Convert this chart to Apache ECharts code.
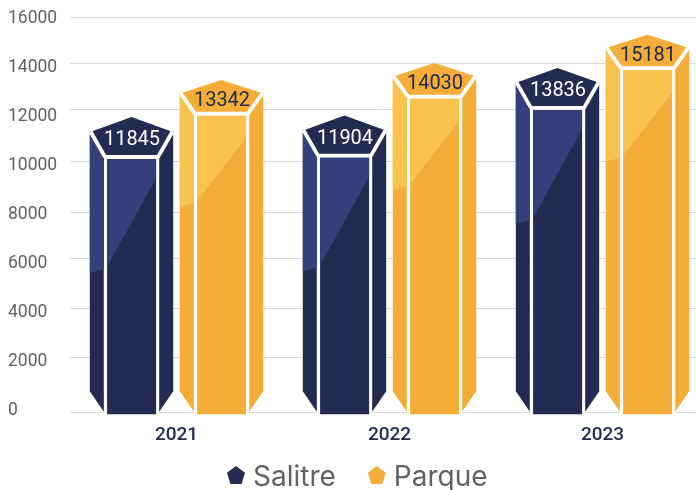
<!DOCTYPE html>
<html>
<head>
<meta charset="utf-8">
<style>html,body{margin:0;padding:0;background:#fff}#main{width:696px;height:490px}</style>
<script src="https://cdn.jsdelivr.net/npm/echarts@6/dist/echarts.min.js"></script>
</head>
<body>
<div id="main"></div>
<script>
const categories = ['2021', '2022', '2023'];
const salitre = [11845, 11904, 13836];
const parque = [13342, 14030, 15181];
const tickLabels = [0, 2000, 4000, 6000, 8000, 10000, 12000, 14000, 16000];
const gridValues = [0, 2230, 4217, 6240, 8095, 10190, 12300, 14150, 16000];

const FONT = 'Roboto';
const pentagon = 'path://M50 0L100 38L81 100L19 100L0 38Z';

// top = front face top below the apex, sh = shoulder of the pentagon
function prism(colors, dx, textDy, lightLeft, lightFront, top, sh) {
  return function (params, api) {
    const p = api.coord([api.value(0), api.value(1)]);
    const base = api.coord([api.value(0), 0])[1];
    const cx = p[0] + dx;
    const y = p[1] - 3;
    const poly = (pts, fill) => ({
      type: 'polygon',
      shape: { points: pts.map(q => [cx + q[0], y + q[1]]) },
      style: { fill: fill }
    });
    const h = base - y;
    const line = (x1, y1, x2, y2) => ({
      type: 'line',
      shape: { x1: cx + x1, y1: y + y1, x2: cx + x2, y2: y + y2 },
      style: { stroke: '#fff', lineWidth: 3.8 }
    });
    return {
      type: 'group',
      children: [
        // white backing behind the front face
        poly([[-27.7, top - 2], [27.7, top - 2], [27.7, h + 0.5], [-27.7, h + 0.5]], '#fff'),
        // side faces
        poly([[-41.7, sh], [-27.7, top], [-27.7, h - 0.5], [-41.7, h - 21]], colors.dark),
        poly([[-41.7, sh], [-27.7, top], [-27.7, lightLeft - 4], [-41.7, lightLeft]], colors.light),
        poly([[41.7, sh], [27.7, top], [27.7, h - 0.5], [41.7, h - 21]], colors.dark),
        // front face
        poly([[-24.4, top + 1.8], [24.6, top + 1.8], [24.6, h + 2], [-24.4, h + 2]], colors.dark),
        poly([[-24.4, top + 1.8], [24.6, top + 1.8], [24.6, lightFront], [-24.4, lightLeft - 6]], colors.light),
        // top
        poly([[0, 0], [40, sh + 0.4], [26, top - 1], [-26, top - 1], [-40, sh + 0.4]], colors.top),
        line(-41, sh + 0.5, -26.5, top),
        line(41, sh + 0.5, 26.5, top),
        line(-26, top, 26, top),
        {
          type: 'text',
          x: cx + 0.5,
          y: y + textDy,
          style: {
            text: String(api.value(1)),
            fill: colors.text,
            font: '20px ' + FONT,
            align: 'center',
            verticalAlign: 'middle'
          }
        }
      ]
    };
  };
}

const chart = echarts.init(document.getElementById('main'));
chart.setOption({
  animation: false,
  grid: [
    { left: 70, top: 17.5, width: 639, height: 394.8, outerBoundsMode: 'none' },
    { left: 70, top: 18.5, width: 639, height: 392, outerBoundsMode: 'none' }
  ],
  legend: {
    data: ['Salitre', 'Parque'],
    left: 227,
    top: 464,
    padding: 0,
    itemWidth: 18,
    itemHeight: 18,
    itemGap: 32,
    icon: pentagon,
    formatter: name => '{t|' + name + '}',
    textStyle: {
      rich: {
        t: { fontFamily: 'Inter', fontSize: 28, color: '#5f6461', padding: [6, 0, 0, 3] }
      }
    }
  },
  xAxis: [
    {
      type: 'category',
      gridIndex: 0,
      data: categories,
      axisLine: { show: false },
      axisTick: { show: false },
      axisLabel: { margin: 13, fontFamily: FONT, fontWeight: 500, fontSize: 19, color: '#212c50' }
    },
    { type: 'category', gridIndex: 1, data: categories, show: false }
  ],
  yAxis: [
    {
      type: 'value',
      gridIndex: 0,
      min: 0,
      max: 16000,
      axisLine: { show: false },
      axisTick: { show: false, customValues: gridValues },
      axisLabel: { show: false },
      splitLine: { show: true, lineStyle: { color: '#d9d9d9', width: 1 } }
    },
    {
      type: 'value',
      gridIndex: 1,
      min: 0,
      max: 16000,
      interval: 2000,
      axisLine: { show: false },
      axisTick: { show: false },
      splitLine: { show: false },
      axisLabel: {
        margin: 62,
        align: 'left',
        fontFamily: FONT,
        fontSize: 17.5,
        color: '#5d6263',
        customValues: tickLabels,
        formatter: v => String(v)
      }
    }
  ],
  series: [
    {
      name: 'Salitre',
      type: 'custom',
      xAxisIndex: 0,
      yAxisIndex: 0,
      clip: false,
      itemStyle: { color: '#212c50' },
      encode: { x: 0, y: 1 },
      data: salitre.map((v, i) => [i, v]),
      renderItem: prism({ top: '#212c50', dark: '#212c50', light: '#334079', text: '#fff' }, -45, 23, 156, 61, 40, 14)
    },
    {
      name: 'Parque',
      type: 'custom',
      xAxisIndex: 0,
      yAxisIndex: 0,
      clip: false,
      itemStyle: { color: '#f5ad3a' },
      encode: { x: 0, y: 1 },
      data: parque.map((v, i) => [i, v]),
      renderItem: prism({ top: '#f5ad3a', dark: '#f5ad3a', light: '#f8c44f', text: '#212c50' }, 45, 21, 127, 58, 33.5, 12.5)
    }
  ]
});
</script>
</body>
</html>
